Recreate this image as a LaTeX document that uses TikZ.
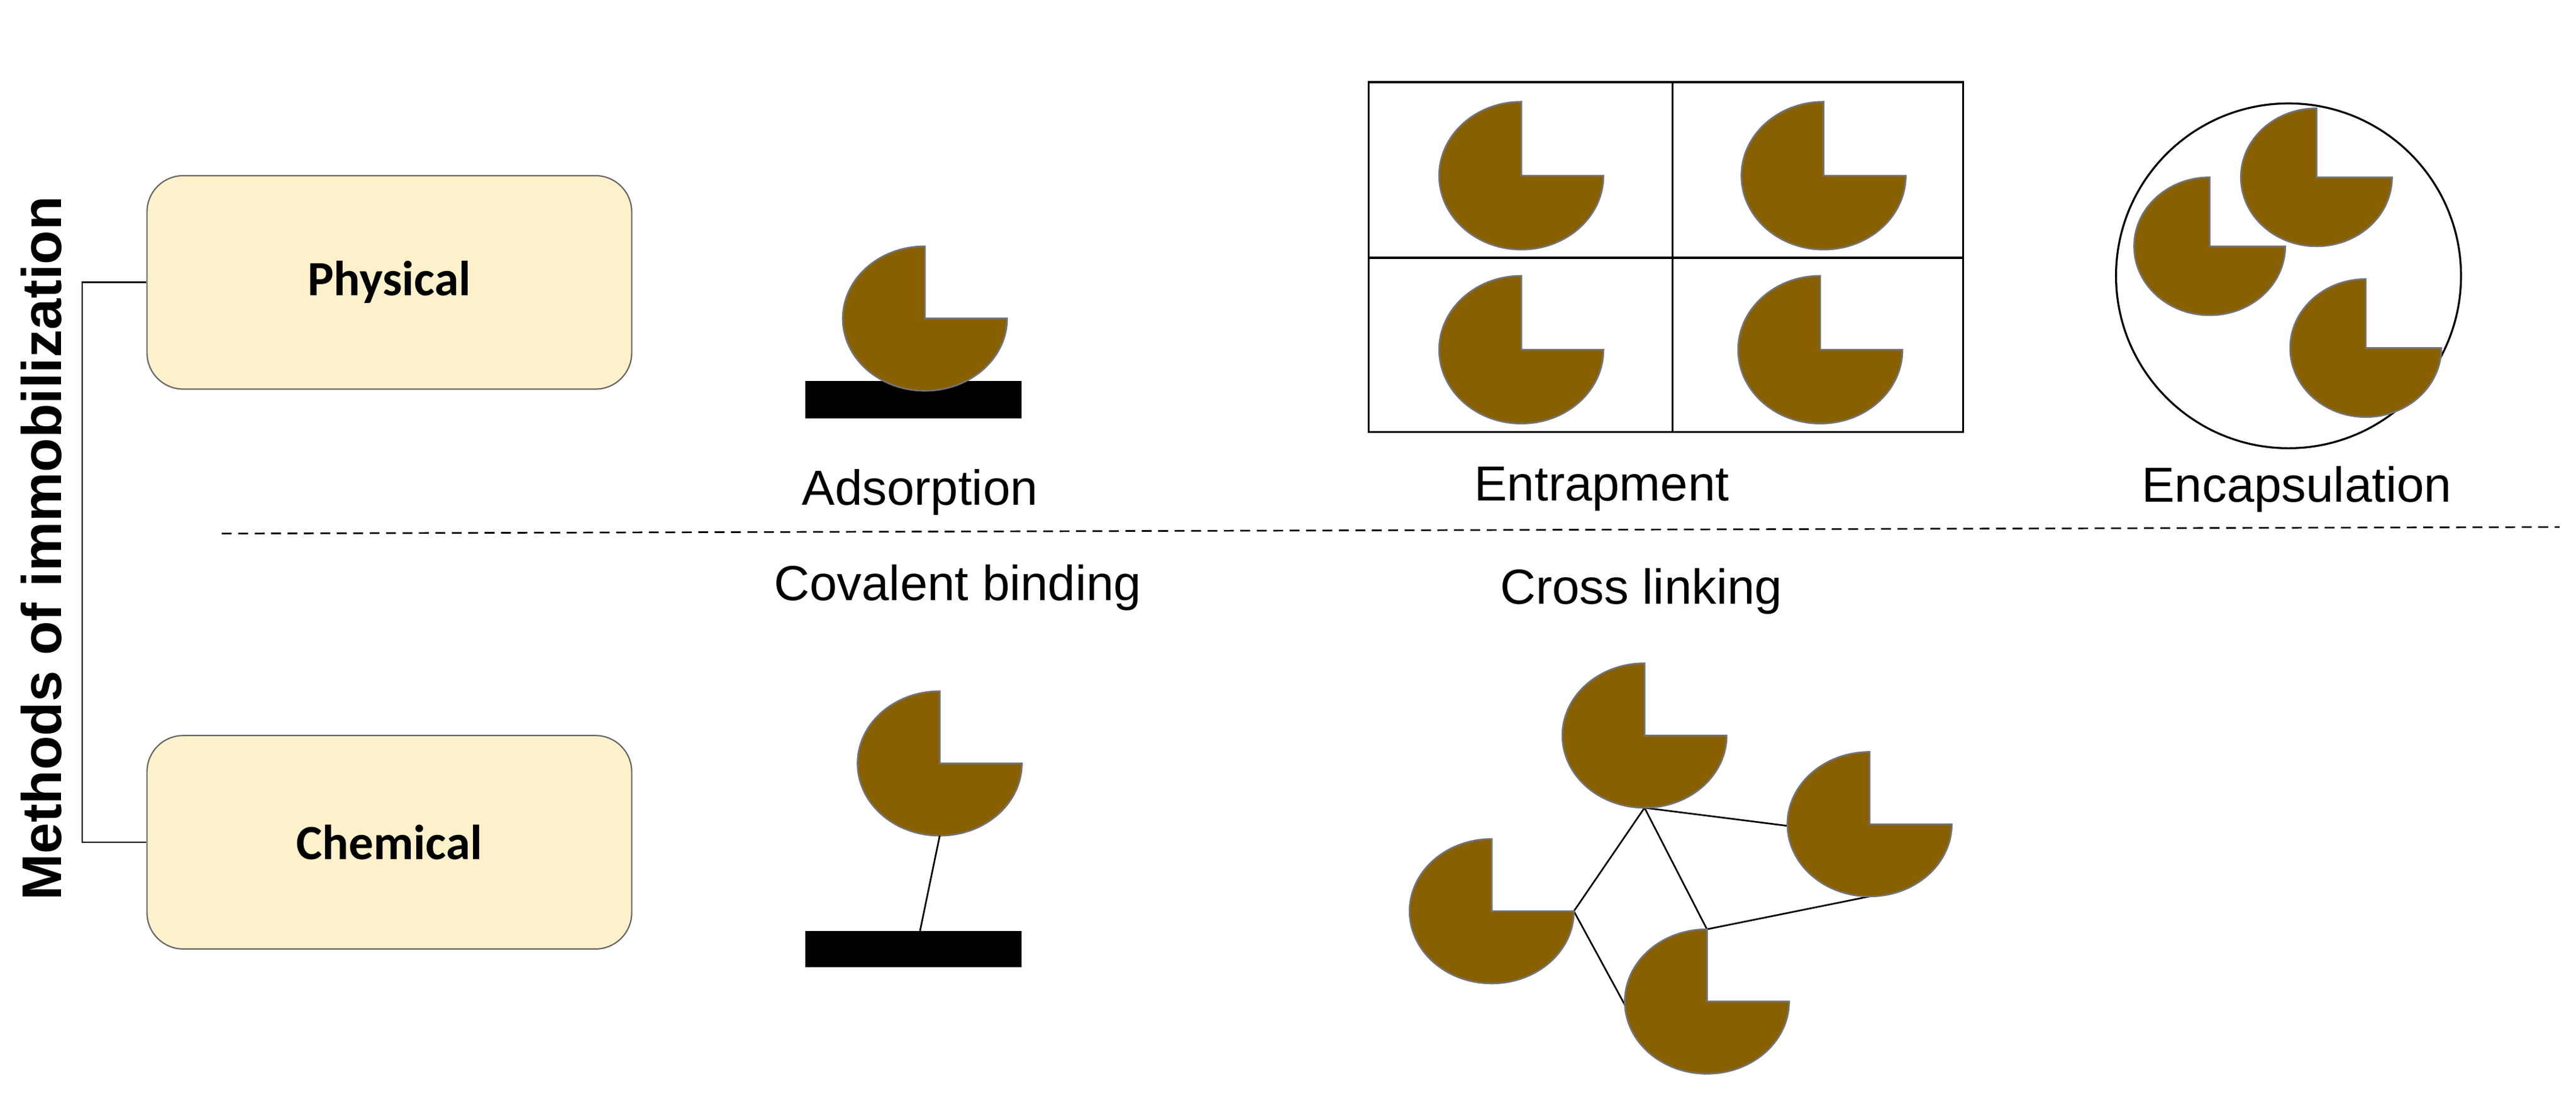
\documentclass[tikz,border=0pt]{standalone}
\usepackage{fontspec}
\usetikzlibrary{shapes.geometric}
\setmainfont{Liberation Sans}
\newfontfamily\carlitofont{Carlito}
\begin{document}
\begin{tikzpicture}[x=0.5pt,y=0.5pt,
  box/.style={draw=black!60,fill=boxc,rounded corners=11pt,minimum width=147.5pt,minimum height=65pt,font=\carlitofont\bfseries\fontsize{15}{17}\selectfont},
  lbl/.style={font=\fontsize{15}{17}\selectfont},
  pacf/.style={fill=pacc,draw=black!55,line width=0.5pt},
  ln/.style={draw=black,line width=0.5pt}]
\definecolor{boxc}{HTML}{FDF1CB}
\definecolor{pacc}{HTML}{886000}
\newcommand\pacman[3][50]{\path[pacf] (#3) -- ++(0,#2) arc[start angle=90,end angle=360,x radius=#1,y radius=#2] -- cycle;}
\useasboundingbox (0,0) rectangle (1568,-668);
% left part
\node[box] (phys) at (237,-172) {Physical};
\node[box] (chem) at (237,-513) {Chemical};
\coordinate (b1) at (50,-172);
\coordinate (b2) at (50,-513);
\draw[ln] (phys.west) -- (b1) -- (b2) -- (chem.west);
\node[rotate=90,font=\bfseries\fontsize{17}{19}\selectfont] (meth) at (25,-334) {Methods of immobilization};
\coordinate (d1) at (135,-325);
\coordinate (d2) at (1558,-321);
\draw[dashed,line width=0.5pt,dash pattern=on 3pt off 2pt] (d1) -- (d2);
% adsorption
\fill (490,-232) rectangle (622,-255);
\coordinate (pa) at (563,-194);
\pacman{44}{pa}
\node[lbl] (tads) at (560,-300) {Adsorption};
% covalent
\node[lbl] (tcov) at (583,-358) {Covalent binding};
\coordinate (pc) at (572,-465);
\pacman{44}{pc}
\node[fill=black,minimum width=66pt,minimum height=11pt,inner sep=0pt] (plat) at (556,-578) {};
\coordinate (pcb) at (572,-509);
\coordinate (pct) at (560,-567);
\draw[ln] (pcb) -- (pct);
% entrapment
\draw[line width=0.6pt] (833,-50) rectangle (1195,-263);
\coordinate (g1) at (1018,-50); \coordinate (g2) at (1018,-263);
\coordinate (g3) at (833,-157); \coordinate (g4) at (1195,-157);
\draw[line width=0.6pt] (g1) -- (g2) (g3) -- (g4);
\coordinate (e1) at (926,-107); \pacman{45}{e1}
\coordinate (e2) at (1110,-107); \pacman{45}{e2}
\coordinate (e3) at (926,-213); \pacman{45}{e3}
\coordinate (e4) at (1108,-213); \pacman{45}{e4}
\node[lbl] (tent) at (975,-298) {Entrapment};
% encapsulation
\node[draw,circle,line width=0.6pt,minimum size=105pt,inner sep=0pt] (cap) at (1393,-168) {};
\coordinate (c1) at (1410,-108); \pacman[46]{42}{c1}
\coordinate (c2) at (1345,-150); \pacman[46]{42}{c2}
\coordinate (c3) at (1440,-212); \pacman[46]{42}{c3}
\node[lbl] (tenc) at (1398,-298) {Encapsulation};
% cross linking
\node[lbl] (tcro) at (999,-360) {Cross linking};
\coordinate (x1) at (1001,-448);
\coordinate (x2) at (1138,-502);
\coordinate (x3) at (908,-555);
\coordinate (x4) at (1039,-610);
\coordinate (k1) at (1001,-492);
\coordinate (k2) at (958,-555);
\coordinate (k3) at (1039,-566);
\coordinate (k4) at (1088,-503);
\coordinate (k5) at (989,-612);
\coordinate (k6) at (1138,-546);
\draw[ln] (k1) -- (k2) -- (k5);
\draw[ln] (k1) -- (k3) -- (k6);
\draw[ln] (k1) -- (k4);
\pacman{44}{x1}\pacman{44}{x2}\pacman{44}{x3}\pacman{44}{x4}
\end{tikzpicture}
\end{document}
